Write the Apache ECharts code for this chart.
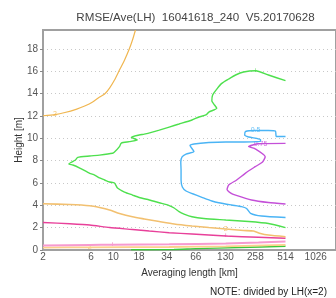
<!DOCTYPE html>
<html>
<head>
<meta charset="utf-8">
<script src="https://cdn.jsdelivr.net/npm/echarts@6/dist/echarts.min.js"></script>
<style>
  html, body { margin: 0; padding: 0; background: #fff; }
  #main { width: 336px; height: 298px; }
</style>
</head>
<body>
<div id="main"></div>
<script>
// axis ticks
const xTickValues = [2, 6, 10, 18, 34, 66, 130, 258, 514, 1026]
const yTickValues = [0, 2, 4, 6, 8, 10, 12, 14, 16, 18]

// contour lines, x = averaging length [km], y = height [m]
const orangeTopX = [2, 2.63, 3.30, 4.33, 5.19, 6.23, 7.30, 8.19, 9.17, 10.27, 11.5, 12.9, 14.4, 15.5, 16.6]
const orangeTopY = [12.02, 12.13, 12.31, 12.62, 12.89, 13.25, 13.70, 13.97, 14.50, 15.22, 16.11, 17.0, 18.0, 18.8, 19.7]

const greenX = [514, 348, 259, 197, 164, 140, 119.6, 106.7, 97, 95.3, 99.7, 106.7, 88.9, 83.1, 70.9, 60.5, 45.0, 35.9, 28.6, 24.4, 20.3, 18.1, 15.1, 17.3, 14.4, 12.0, 11.5, 10.27, 9.82, 7.30, 5.82, 4.43, 4.2, 3.61, 3.96, 4.64, 5.82, 6.52, 7.30, 8.19, 9.17, 10.27, 11.0, 12.9, 15.5, 18.1, 22.8, 28.6, 35.9, 40.2, 45.0, 50.4, 60.5, 79.4, 131, 221, 348, 514]
const greenY = [15.16, 15.67, 16.05, 15.94, 15.67, 15.31, 14.92, 14.41, 13.88, 13.34, 13.07, 12.69, 12.35, 12.09, 11.91, 11.64, 11.28, 11.01, 10.74, 10.56, 10.38, 10.30, 10.09, 9.85, 9.70, 9.58, 9.25, 8.77, 8.66, 8.50, 8.42, 8.30, 8.06, 7.70, 7.61, 7.34, 6.87, 6.71, 6.45, 6.27, 6.09, 6.0, 5.55, 5.19, 4.92, 4.70, 4.48, 4.23, 3.98, 3.76, 3.43, 3.22, 2.98, 2.82, 2.69, 2.55, 2.37, 2.0]

const blueX = [514, 417, 408, 348, 259, 206, 202, 221, 290, 290, 176, 131, 88.9, 63.3, 57.8, 63.3, 52.8, 48.2, 46.8, 47.1, 47.1, 48.5, 52.8, 60.5, 75.9, 95.3, 111.7, 150, 188, 211, 231, 297, 514]
const blueY = [10.16, 10.16, 10.65, 10.70, 10.70, 10.61, 10.30, 10.12, 9.89, 9.71, 9.67, 9.67, 9.62, 9.49, 9.36, 8.82, 8.59, 8.33, 7.88, 7.16, 6.27, 5.64, 5.28, 5.06, 4.72, 4.39, 4.23, 4.03, 3.89, 3.72, 3.29, 3.04, 2.91]

const purpleX = [514, 277, 221, 259, 323, 304, 257, 206, 168, 140, 135, 147, 164, 236, 348, 514]
const purpleY = [9.55, 9.51, 9.27, 9.04, 8.35, 7.88, 7.46, 6.89, 6.27, 5.82, 5.42, 5.10, 4.92, 4.48, 4.25, 4.12]

const orangeLowX = [2, 3.69, 5.82, 7.30, 9.17, 11.5, 15.5, 20.3, 28.6, 40.2, 60.5, 88.9, 131, 197, 247, 290, 348, 514]
const orangeLowY = [4.14, 4.07, 3.96, 3.80, 3.58, 3.27, 2.97, 2.78, 2.55, 2.33, 2.15, 2.01, 1.88, 1.75, 1.70, 1.48, 1.34, 1.19]

const magentaX = [2, 3.69, 5.82, 9.17, 15.5, 22.8, 35.9, 60.5, 131, 277, 514]
const magentaY = [2.46, 2.35, 2.24, 2.01, 1.84, 1.70, 1.55, 1.43, 1.25, 1.14, 1.05]

const pinkX = [2, 5.82, 9.82, 35.9, 131, 277, 514]
const pinkY = [0.40, 0.45, 0.47, 0.51, 0.58, 0.67, 0.76]

const lightOrangeX = [2, 5.82, 35.9, 131, 514]
const lightOrangeY = [0.22, 0.24, 0.27, 0.33, 0.45]

const greenLowX = [15, 40, 66, 176, 514]
const greenLowY = [0.02, 0.04, 0.12, 0.22, 0.33]

// contour labels
const labelX = [2.63, 259, 259, 290, 131, 131, 9.82, 5.82]
const labelY = [12.13, 16.05, 10.70, 9.45, 1.88, 1.25, 0.47, 0.24]
const labelText = ['2', '+', '0.5', '0.75', '2', '+', '+', '2']
const labelColor = ['#f0b650', '#3fd43f', '#4ab4f5', '#c450d8', '#f0b650', '#e8409a', '#e8409a', '#f2c070']

const pairs = (xs, ys) => xs.map((x, i) => [x, ys[i]])

const line = (xs, ys, color, width = 1.4) => ({
  type: 'line',
  data: pairs(xs, ys),
  showSymbol: false,
  symbol: 'none',
  smooth: 0.2,
  clip: true,
  silent: true,
  lineStyle: { color, width }
})

const chart = echarts.init(document.getElementById('main'))
chart.setOption({
  animation: false,
  textStyle: { fontFamily: 'Liberation Sans' },
  title: [
    {
      text: 'RMSE/Ave(LH)  16041618_240  V5.20170628',
      left: 195.5, top: 12, padding: 0, textAlign: 'center',
      textStyle: { fontSize: 11.6, fontWeight: 'normal', color: '#444', fontFamily: 'Liberation Sans' }
    },
    {
      text: 'NOTE: divided by LH(x=2)',
      left: 210, top: 287, padding: 0,
      textStyle: { fontSize: 10, fontWeight: 'normal', color: '#222', fontFamily: 'Liberation Sans' }
    }
  ],
  grid: { left: 43, right: -2, top: 30, bottom: 48, show: true, borderColor: '#a0a0a0', borderWidth: 2 },
  xAxis: {
    type: 'log',
    logBase: 2,
    min: 2,
    max: 1632,
    name: 'Averaging length [km]',
    nameLocation: 'middle',
    nameGap: 18,
    nameMoveOverlap: false,
    nameTextStyle: { fontSize: 10, color: '#333' },
    axisLine: { lineStyle: { color: '#a0a0a0', width: 2 } },
    axisTick: { show: false },
    splitLine: { show: false },
    minorTick: { show: false },
    axisLabel: {
      customValues: xTickValues,
      fontSize: 10, color: '#555', margin: 2,
      formatter: v => String(Math.round(v))
    }
  },
  yAxis: {
    type: 'value',
    min: 0,
    max: 19.7,
    interval: 2,
    name: 'Height [m]',
    nameLocation: 'middle',
    nameGap: 19,
    nameMoveOverlap: false,
    nameTextStyle: { fontSize: 10, color: '#333' },
    axisLine: { show: true, lineStyle: { color: '#a0a0a0', width: 2 } },
    axisTick: { show: true, length: 3, lineStyle: { color: '#888' }, customValues: yTickValues },
    axisLabel: { fontSize: 10, color: '#555', margin: 5, customValues: yTickValues },
    splitLine: { show: true, lineStyle: { color: '#c8c8c8', type: [1, 3], width: 1 } }
  },
  series: [
    line(greenLowX, greenLowY, '#3cc83c', 1.4),
    line(lightOrangeX, lightOrangeY, '#fcd08c', 1.8),
    line(pinkX, pinkY, '#f79ad0', 2),
    line(magentaX, magentaY, '#e8409a', 1.4),
    line(orangeLowX, orangeLowY, '#f2c070', 1.6),
    line(purpleX, purpleY, '#c450d8', 1.4),
    line(blueX, blueY, '#4ab4f5', 1.4),
    line(greenX, greenY, '#4ee04e', 1.4),
    line(orangeTopX, orangeTopY, '#f0b650', 1.2),
    {
      type: 'scatter',
      silent: true,
      symbol: 'circle',
      symbolSize: 1,
      itemStyle: { color: 'rgba(0,0,0,0)' },
      data: labelX.map((x, i) => ({
        value: [x, labelY[i]],
        label: {
          show: true, position: 'inside', formatter: labelText[i],
          fontSize: 7, color: labelColor[i]
        }
      }))
    }
  ]
})
</script>
</body>
</html>
